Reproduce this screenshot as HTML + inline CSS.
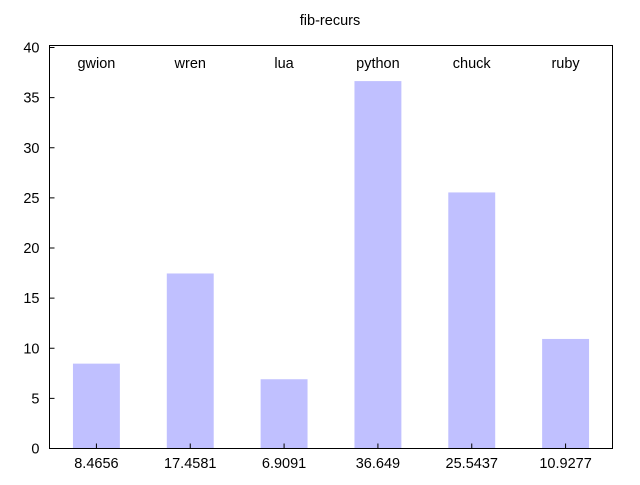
<!DOCTYPE html>
<html><head><meta charset="utf-8"><style>
body{margin:0;background:#fff}
svg text{font-family:"Liberation Sans",sans-serif;font-size:14.5px;fill:#000}
</style></head><body>
<svg id="chart" width="640" height="480" xmlns="http://www.w3.org/2000/svg">
<text x="330" y="25" text-anchor="middle">fib-recurs</text>
<g id="bars"></g>
<g id="axes"></g>
</svg>
<script>
const categories = ["gwion","wren","lua","python","chuck","ruby"];
const values = [8.4656,17.4581,6.9091,36.649,25.5437,10.9277];
const valueLabels = ["8.4656","17.4581","6.9091","36.649","25.5437","10.9277"];
const yTicks = [0,5,10,15,20,25,30,35,40];

const L=49.5,R=612.5,T=47.5,B=448.5,yMax=40,frameTop=45.5;
const NS="http://www.w3.org/2000/svg";
const slot=(R-L)/categories.length;
function xc(i){return L+slot*(i+0.5);}
function y(v){return B-(v/yMax)*(B-T);}
function mk(tag,attrs,parent){const e=document.createElementNS(NS,tag);for(const k in attrs)e.setAttribute(k,attrs[k]);parent.appendChild(e);return e;}
const bars=document.getElementById('bars'),axes=document.getElementById('axes');
values.forEach((v,i)=>{
  const r=mk('rect',{x:xc(i)-slot/4,y:y(v),width:slot/2,height:B-y(v),fill:'#c0c0ff'},bars);
  
  
  const t=mk('text',{x:xc(i),y:68,'text-anchor':'middle'},bars);t.textContent=categories[i];
  
  
  const vt=mk('text',{x:xc(i),y:468,'text-anchor':'middle'},bars);vt.textContent=valueLabels[i];
  
  
  const tk=mk('line',{x1:xc(i),x2:xc(i),y1:B,y2:B-5,stroke:'#000'},axes);
  
  
});
const frame=mk('rect',{x:L,y:frameTop,width:R-L,height:B-frameTop,fill:'none',stroke:'#000','stroke-width':1},axes);


yTicks.forEach(v=>{
  const l=mk('line',{x1:L,x2:L+5,y1:y(v),y2:y(v),stroke:'#000'},axes);
  
  
  const t=mk('text',{x:L-10,y:y(v)+5,'text-anchor':'end'},axes);t.textContent=v;
  
  
});
</script>
</body></html>
